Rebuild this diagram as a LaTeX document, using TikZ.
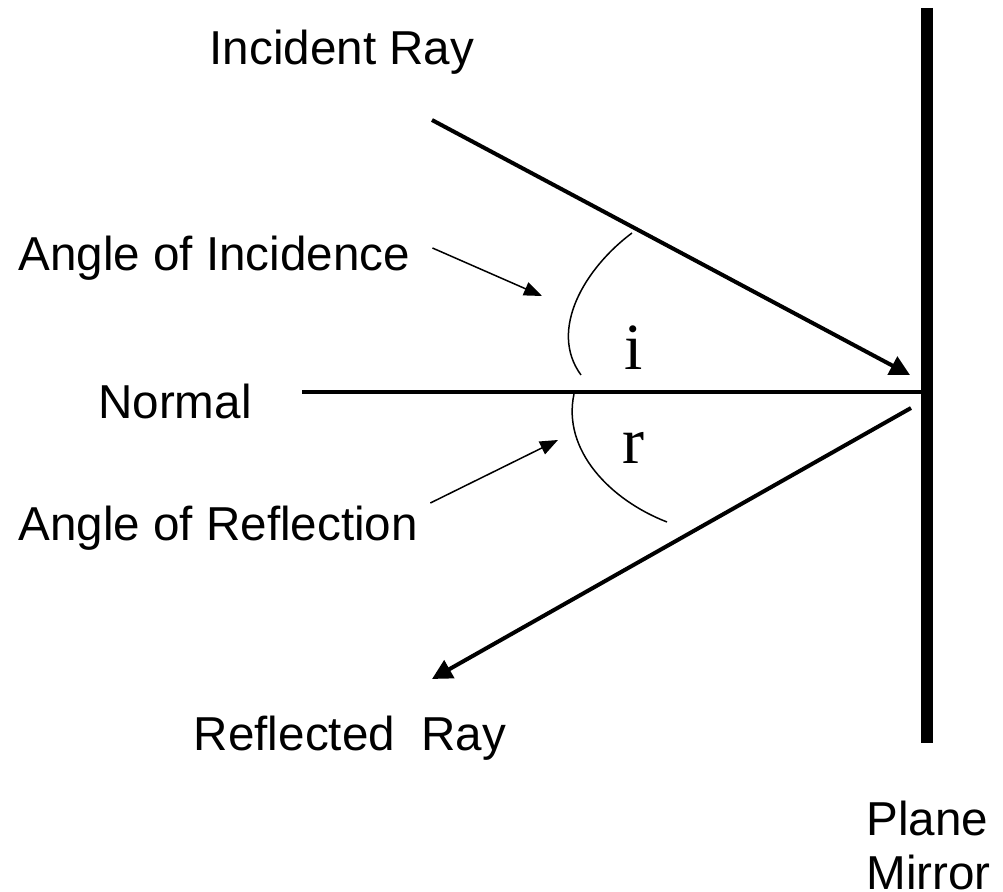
\documentclass[tikz,border=0pt]{standalone}
\usepackage{fontspec}
\setmainfont{Liberation Sans}
\newfontfamily\serifx{Liberation Serif}
\usetikzlibrary{arrows.meta}
\begin{document}
\begin{tikzpicture}[x=0.5pt,y=-0.5pt,
  lbl/.style={inner sep=0pt,font=\fontsize{23.8}{28}\selectfont},
  ang/.style={inner sep=0pt,font=\serifx\fontsize{33}{38}\selectfont},
  ray/.style={line width=2pt,-{Triangle[length=10pt,width=10pt]}},
  thinarrow/.style={line width=0.75pt,-{Triangle[length=9pt,width=7pt]}},
  arcline/.style={line width=0.75pt}]
\useasboundingbox (0,0) rectangle (1003,892);
% mirror
\coordinate (mtop) at (927,8);
\coordinate (mbot) at (927,743);
\draw[line width=6pt] (mtop) -- (mbot);
% normal
\coordinate (nl) at (302,392);
\coordinate (nr) at (927,392);
\draw[line width=1.8pt] (nl) -- (nr);
% rays
\coordinate (is) at (432,120);
\coordinate (ie) at (910,375);
\draw[ray] (is) -- (ie);
\coordinate (rs) at (911,408);
\coordinate (re) at (432,679);
\draw[ray] (rs) -- (re);
% arcs
\coordinate (a1) at (632,233);
\coordinate (a2) at (581,375);
\draw[arcline] (a1) .. controls (585,268) and (548,330) .. (a2);
\coordinate (b1) at (574,394);
\coordinate (b2) at (667,522);
\draw[arcline] (b1) .. controls (562,450) and (610,500) .. (b2);
% labels
\node[lbl] (inc) at (342,52) {Incident Ray};
\node[lbl,anchor=west] (aoi) at (18,258) {Angle of Incidence};
\node[lbl] (nor) at (175,401) {Normal};
\node[lbl,anchor=west] (aor) at (18,528) {Angle of Reflection};
\node[lbl] (ref) at (350,738) {Reflected\ \ Ray};
\node[lbl,anchor=west] (pl) at (866,818) {Plane};
\node[lbl,anchor=west] (mi) at (866,872) {Mirror};
\node[ang] (ii) at (634,348) {i};
\node[ang] (rr) at (633,448) {r};
% pointer arrows
\coordinate (p1) at (542,296);
\coordinate (p2) at (558,440);
\draw[thinarrow] (aoi.east) ++(22,-10) coordinate (p1s) -- (p1);
\draw[thinarrow] (aor.east) ++(12,-25) coordinate (p2s) -- (p2);
\end{tikzpicture}
\end{document}
